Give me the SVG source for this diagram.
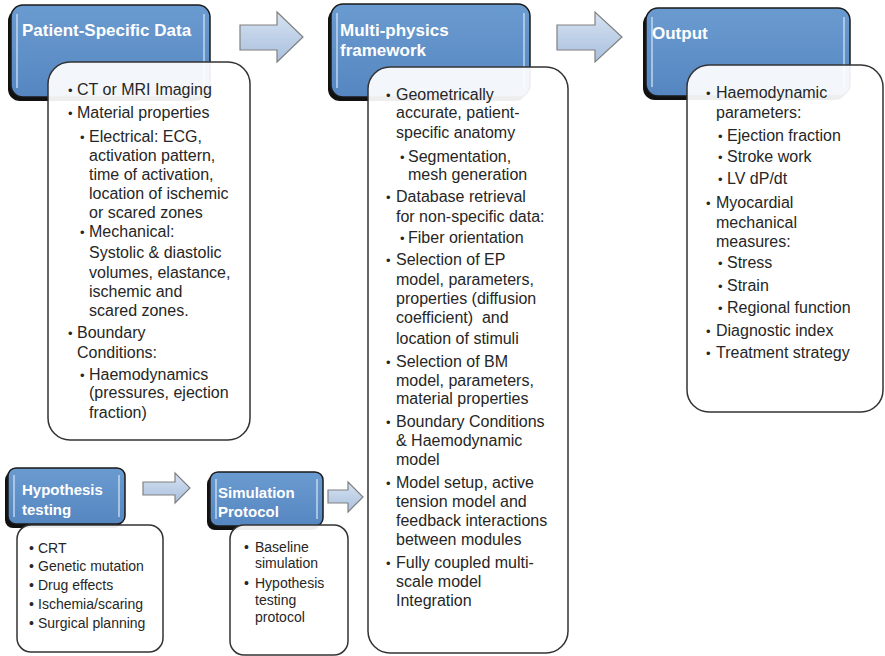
<svg xmlns="http://www.w3.org/2000/svg" width="885" height="656" viewBox="0 0 885 656">
<defs>
<linearGradient id="arrowGrad" x1="0" y1="0" x2="0" y2="1">
<stop offset="0" stop-color="#d6e2f1"/>
<stop offset="1" stop-color="#a9c0de"/>
</linearGradient>
<linearGradient id="blueGrad" x1="0" y1="0" x2="0" y2="1">
<stop offset="0" stop-color="#6a9bd0"/>
<stop offset="1" stop-color="#5686c0"/>
</linearGradient>
</defs>
<style>
.shadow{fill:#111;}
.blue{fill:url(#blueGrad);stroke:#1a1a1a;stroke-width:1.5;}
.hl{stroke:#c9dbef;stroke-width:2;opacity:0.7;fill:none;}
.card{fill:#ffffff;fill-opacity:0.93;stroke:#333;stroke-width:1.5;}
.title{font-family:"Liberation Sans",Arial,sans-serif;font-weight:bold;fill:#ffffff;font-size:17px;}
.stitle{font-family:"Liberation Sans",Arial,sans-serif;font-weight:bold;fill:#ffffff;font-size:15px;}
.t{font-family:"Liberation Sans",Arial,sans-serif;font-size:16px;fill:#262626;}
.s{font-family:"Liberation Sans",Arial,sans-serif;font-size:14px;fill:#262626;}
.b{font-size:13px;}
.arrow{fill:url(#arrowGrad);stroke:#808080;stroke-width:1.2;}
</style>

<g id="connectors">
<path class="arrow" d="M240,25 H277 V12 L303,37 L277,62 V50 H240 Z"/>
<path class="arrow" d="M557,25 H595 V12 L622,37 L595,62 V50 H557 Z"/>
<path class="arrow" d="M143,482 H175 V473 L190,488 L175,503 V495 H143 Z"/>
<path class="arrow" d="M328,490 H348 V482 L363,497 L348,512 V503 H328 Z"/>
</g>

<g id="patient-specific-data">
<rect class="shadow" x="8" y="9" width="199" height="92" rx="12"/>
<rect class="blue" x="11" y="5" width="199" height="92" rx="12"/>
<line class="hl" x1="17" y1="14" x2="17" y2="88"/>
<line class="hl" x1="204" y1="14" x2="204" y2="88"/>
<text class="title" x="22" y="36">Patient-Specific Data</text>
</g>
<g id="patient-specific-data-list">
<rect class="card" x="48" y="62" width="202" height="378" rx="22"/>
<g class="t">
<text class="b" x="68" y="95">•</text><text x="77" y="95">CT or MRI Imaging</text>
<text class="b" x="68" y="118">•</text><text x="77" y="118">Material properties</text>
<text class="b" x="80" y="142">•</text><text x="89" y="142">Electrical: ECG,</text>
<text x="89" y="161">activation pattern,</text>
<text x="89" y="180">time of activation,</text>
<text x="89" y="199">location of ischemic</text>
<text x="89" y="218">or scared zones</text>
<text class="b" x="80" y="237">•</text><text x="89" y="237">Mechanical:</text>
<text x="89" y="258">Systolic &amp; diastolic</text>
<text x="89" y="278">volumes, elastance,</text>
<text x="89" y="297">ischemic and</text>
<text x="89" y="316">scared zones.</text>
<text class="b" x="68" y="338">•</text><text x="77" y="338">Boundary</text>
<text x="77" y="358">Conditions:</text>
<text class="b" x="80" y="380">•</text><text x="89" y="380">Haemodynamics</text>
<text x="89" y="398">(pressures, ejection</text>
<text x="89" y="418">fraction)</text>
</g>
</g>

<g id="multi-physics-framework">
<rect class="shadow" x="328" y="8" width="199" height="93" rx="12"/>
<rect class="blue" x="331" y="4" width="199" height="93" rx="12"/>
<line class="hl" x1="337" y1="13" x2="337" y2="88"/>
<line class="hl" x1="524" y1="13" x2="524" y2="88"/>
<text class="title" x="340" y="36">Multi-physics</text>
<text class="title" x="340" y="56">framework</text>
</g>
<g id="multi-physics-list">
<rect class="card" x="368" y="67" width="200" height="586" rx="22"/>
<g class="t">
<text class="b" x="386" y="100">•</text><text x="396" y="100">Geometrically</text>
<text x="396" y="118">accurate, patient-</text>
<text x="396" y="138">specific anatomy</text>
<text class="b" x="400" y="162">•</text><text x="408" y="162">Segmentation,</text>
<text x="408" y="180">mesh generation</text>
<text class="b" x="386" y="202">•</text><text x="396" y="202">Database retrieval</text>
<text x="396" y="222">for non-specific data:</text>
<text class="b" x="400" y="243">•</text><text x="408" y="243">Fiber orientation</text>
<text class="b" x="386" y="265">•</text><text x="396" y="265">Selection of EP</text>
<text x="396" y="285">model, parameters,</text>
<text x="396" y="304">properties (diffusion</text>
<text x="396" y="323">coefficient)&#160; and</text>
<text x="396" y="344">location of stimuli</text>
<text class="b" x="386" y="367">•</text><text x="396" y="367">Selection of BM</text>
<text x="396" y="386">model, parameters,</text>
<text x="396" y="404">material properties</text>
<text class="b" x="386" y="427">•</text><text x="396" y="427">Boundary Conditions</text>
<text x="396" y="446">&amp; Haemodynamic</text>
<text x="396" y="465">model</text>
<text class="b" x="386" y="488">•</text><text x="396" y="488">Model setup, active</text>
<text x="396" y="507">tension model and</text>
<text x="396" y="526">feedback interactions</text>
<text x="396" y="545">between modules</text>
<text class="b" x="386" y="568">•</text><text x="396" y="568">Fully coupled multi-</text>
<text x="396" y="587">scale model</text>
<text x="396" y="606">Integration</text>
</g>
</g>

<g id="output">
<rect class="shadow" x="643" y="12" width="204" height="88" rx="12"/>
<rect class="blue" x="646" y="8" width="204" height="88" rx="12"/>
<line class="hl" x1="652" y1="17" x2="652" y2="87"/>
<line class="hl" x1="844" y1="17" x2="844" y2="87"/>
<text class="title" x="652" y="39">Output</text>
</g>
<g id="output-list">
<rect class="card" x="687" y="65" width="196" height="347" rx="22"/>
<g class="t">
<text class="b" x="706" y="98">•</text><text x="716" y="98">Haemodynamic</text>
<text x="716" y="118">parameters:</text>
<text class="b" x="718" y="141">•</text><text x="727" y="141">Ejection fraction</text>
<text class="b" x="718" y="162">•</text><text x="727" y="162">Stroke work</text>
<text class="b" x="718" y="184">•</text><text x="727" y="184">LV dP/dt</text>
<text class="b" x="706" y="208">•</text><text x="716" y="208">Myocardial</text>
<text x="716" y="228">mechanical</text>
<text x="716" y="247">measures:</text>
<text class="b" x="718" y="268">•</text><text x="727" y="268">Stress</text>
<text class="b" x="718" y="291">•</text><text x="727" y="291">Strain</text>
<text class="b" x="718" y="313">•</text><text x="727" y="313">Regional function</text>
<text class="b" x="706" y="336">•</text><text x="716" y="336">Diagnostic index</text>
<text class="b" x="706" y="358">•</text><text x="716" y="358">Treatment strategy</text>
</g>
</g>

<g id="hypothesis-testing">
<rect class="shadow" x="5" y="472" width="117" height="56" rx="8"/>
<rect class="blue" x="8" y="468" width="117" height="56" rx="8"/>
<line class="hl" x1="14" y1="475" x2="14" y2="517"/>
<line class="hl" x1="119" y1="475" x2="119" y2="517"/>
<text class="stitle" x="22" y="495">Hypothesis</text>
<text class="stitle" x="22" y="515">testing</text>
</g>
<g id="hypothesis-testing-list">
<rect class="card" x="17" y="525" width="146" height="127" rx="14"/>
<g class="s">
<text x="29" y="553">•</text><text x="38" y="553">CRT</text>
<text x="29" y="571">•</text><text x="38" y="571">Genetic mutation</text>
<text x="29" y="590">•</text><text x="38" y="590">Drug effects</text>
<text x="29" y="609">•</text><text x="38" y="609">Ischemia/scaring</text>
<text x="29" y="628">•</text><text x="38" y="628">Surgical planning</text>
</g>
</g>

<g id="simulation-protocol">
<rect class="shadow" x="207" y="476" width="113" height="54" rx="8"/>
<rect class="blue" x="210" y="472" width="113" height="54" rx="8"/>
<line class="hl" x1="216" y1="479" x2="216" y2="519"/>
<line class="hl" x1="317" y1="479" x2="317" y2="519"/>
<text class="stitle" x="218" y="498">Simulation</text>
<text class="stitle" x="218" y="517">Protocol</text>
</g>
<g id="simulation-protocol-list">
<rect class="card" x="230" y="525" width="118" height="130" rx="14"/>
<g class="s">
<text x="244" y="552">•</text><text x="255" y="552">Baseline</text>
<text x="255" y="568">simulation</text>
<text x="244" y="588">•</text><text x="255" y="588">Hypothesis</text>
<text x="255" y="605">testing</text>
<text x="255" y="622">protocol</text>
</g>
</g>
</svg>
